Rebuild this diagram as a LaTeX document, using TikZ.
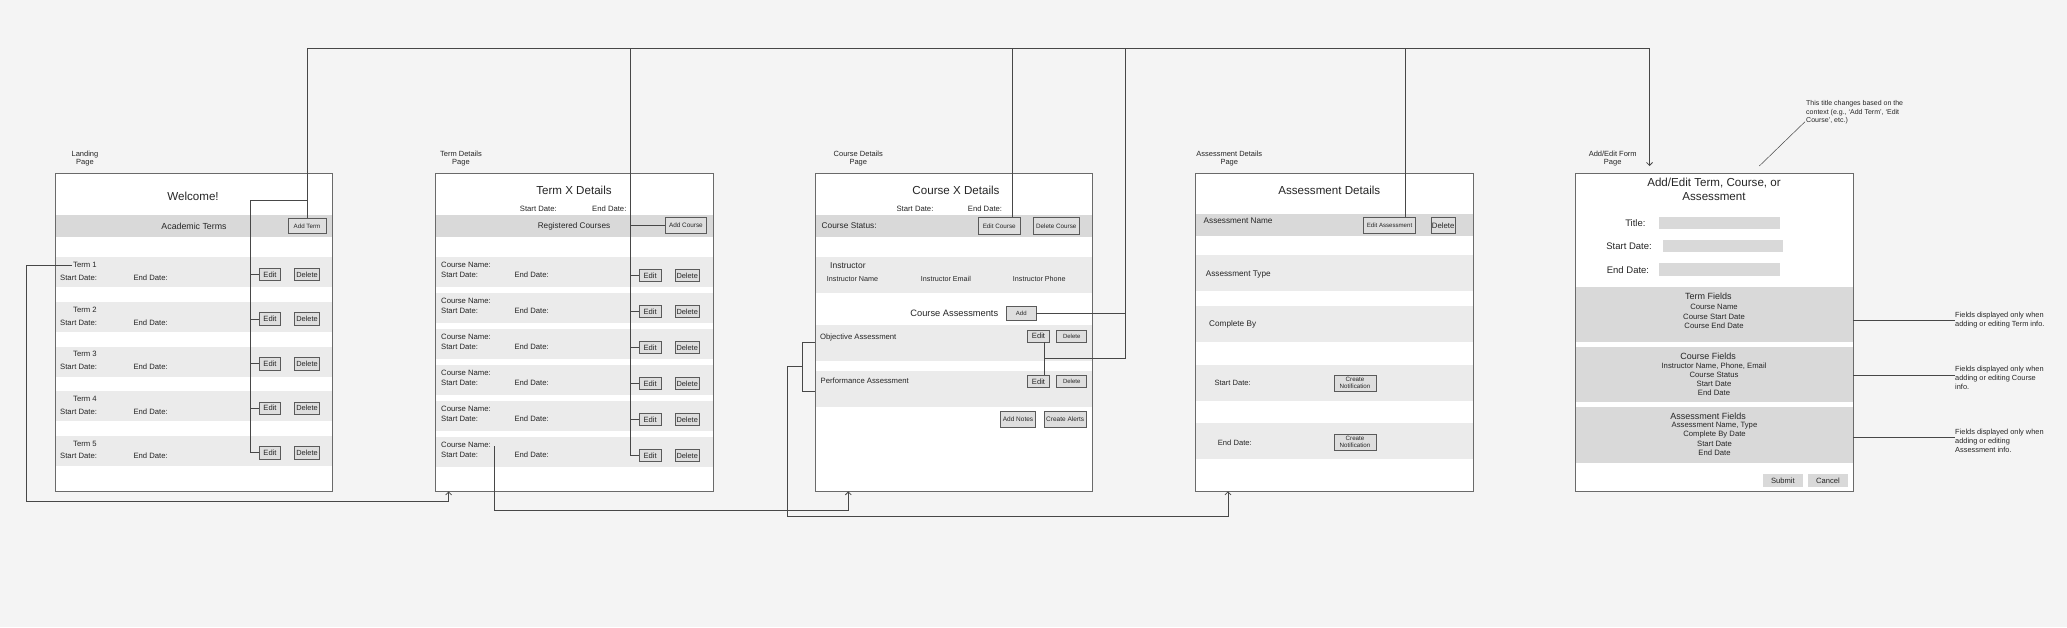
\documentclass[tikz,border=0pt]{standalone}
\usepackage{fontspec}
\setmainfont{Liberation Sans}
\usetikzlibrary{arrows.meta}
\definecolor{bgc}{HTML}{F4F4F4}
\definecolor{hdrc}{HTML}{D9D9D9}
\definecolor{rowc}{HTML}{EBEBEB}
\definecolor{pagec}{HTML}{6A6A6A}
\definecolor{btnf}{HTML}{DEDEDE}
\definecolor{btnb}{HTML}{5A5A5A}
\definecolor{txtc}{HTML}{262626}
\definecolor{linec}{HTML}{474747}
\definecolor{fieldc}{HTML}{D9D9D9}
\newcommand{\fs}[2]{\fontsize{#1}{#2}\selectfont}
\tikzset{
  every node/.append style={text=txtc, inner sep=1pt},
  pagefill/.style={fill=white, draw=none, anchor=north west, minimum width=277pt, minimum height=317.7pt, inner sep=0pt},
  pageline/.style={draw=pagec, line width=0.9pt},
  lt/.style={anchor=west},
  btn/.style={draw=btnb, fill=btnf, line width=0.7pt, inner sep=0pt, align=center},
  flatbtn/.style={fill=hdrc, draw=none, inner sep=0pt},
  conn/.style={draw=linec, line width=0.75pt},
  arr/.style={conn, -{Straight Barb[length=3pt,width=6pt]}},
  ttl/.style={font=\fs{11.6}{13.4}},
  plabel/.style={font=\fs{7.5}{8.3}, align=center},
  small/.style={font=\fs{7.7}{9}},
  note/.style={font=\fs{7.4}{9}, align=left, anchor=north west, inner sep=0pt}
}
\begin{document}
\begin{tikzpicture}[x=1pt,y=-1pt]
\useasboundingbox (0,0) rectangle (2067,627);
\fill[bgc] (0,0) rectangle (2067,627);

% ---------- page labels ----------
\node[plabel] (lbl1) at (85,158.5) {Landing\\Page};
\node[plabel] (lbl2) at (461,158.8) {Term Details\\Page};
\node[plabel] (lbl3) at (858.3,158.8) {Course Details\\Page};
\node[plabel] (lbl4) at (1229.3,158.8) {Assessment Details\\Page};
\node[plabel] (lbl5) at (1612.7,158.7) {Add/Edit Form\\Page};

% ---------- page fills ----------
\node[pagefill] (landing) at (55.3,173.3) {};
\node[pagefill] (termpage) at (435.7,173.3) {};
\node[pagefill] (coursepage) at (815,173.3) {};
\node[pagefill] (asspage) at (1195.7,173.3) {};
\node[pagefill] (formpage) at (1575.7,173.3) {};

% ---------- Landing page ----------
\node[ttl] (welcome) at (193,196) {Welcome!};
\fill[hdrc] (55.3,215) rectangle (332.3,236.7);
\node[font=\fs{8.8}{10}] (acterms) at (194,226) {Academic Terms};
\node[btn, font=\fs{6.2}{7}, minimum width=38pt, minimum height=15pt] (addterm) at (307,225.8) {Add Term};
\foreach \i in {1,...,5}{
  \pgfmathsetmacro\rt{257.3+44.6*(\i-1)}
  \fill[rowc] (55.3,\rt) rectangle (332.3,{\rt+30});
  \node[small] (term\i) at (85,{\rt+7.7}) {Term \i};
  \node[small, lt] (lsd\i) at (59,{\rt+20.5}) {Start Date:};
  \node[small, lt] (led\i) at (132.3,{\rt+20.5}) {End Date:};
  \node[btn, font=\fs{7.6}{9}, minimum width=21.4pt, minimum height=12.7pt] (ledit\i) at (270,{\rt+17.1}) {Edit};
  \node[btn, font=\fs{7.4}{9}, minimum width=24.6pt, minimum height=12.7pt] (ldel\i) at (307,{\rt+17.1}) {Delete};
}

% ---------- Term details page ----------
\node[ttl] (termttl) at (574,190) {Term X Details};
\node[small] (tsd) at (538.3,209) {Start Date:};
\node[small] (ted) at (609.3,209) {End Date:};
\fill[hdrc] (435.7,215) rectangle (712.7,236.7);
\node[font=\fs{8.2}{10}] (regc) at (574,226) {Registered Courses};
\node[btn, font=\fs{6.4}{7}, minimum width=41.7pt, minimum height=15.6pt] (addcourse) at (685.9,225.5) {Add Course};
\foreach \i in {1,...,6}{
  \pgfmathsetmacro\rt{257.3+36*(\i-1)}
  \fill[rowc] (435.7,\rt) rectangle (712.7,{\rt+30});
  \node[small, lt] (cn\i) at (440,{\rt+7.7}) {Course Name:};
  \node[small, lt] (tsd\i) at (440,{\rt+17.7}) {Start Date:};
  \node[small, lt] (ted\i) at (513.3,{\rt+17.7}) {End Date:};
  \node[btn, font=\fs{7.6}{9}, minimum width=22.3pt, minimum height=12.4pt] (tedit\i) at (650.2,{\rt+18.2}) {Edit};
  \node[btn, font=\fs{7.4}{9}, minimum width=23.7pt, minimum height=12.4pt] (tdel\i) at (687.2,{\rt+18.2}) {Delete};
}

% ---------- Course details page ----------
\node[ttl] (coursettl) at (956,190) {Course X Details};
\node[small] (csd) at (915,209) {Start Date:};
\node[small] (ced) at (985,209) {End Date:};
\fill[hdrc] (815,215) rectangle (1092,236.7);
\node[font=\fs{8.3}{10}, lt] (cstatus) at (820.5,226) {Course Status:};
\node[btn, font=\fs{6.3}{7}, minimum width=41.7pt, minimum height=16.3pt] (editcourse) at (999.2,225.8) {Edit Course};
\node[btn, font=\fs{6.3}{7}, minimum width=46pt, minimum height=16.3pt] (delcourse) at (1056.3,225.8) {Delete Course};
\fill[rowc] (815,257.3) rectangle (1092,292.7);
\node[font=\fs{8.5}{10}, lt] (instr) at (829,265.7) {Instructor};
\node[font=\fs{7.2}{9}, lt] (iname) at (825.7,279) {Instructor Name};
\node[font=\fs{7.2}{9}, lt] (iemail) at (919.7,279) {Instructor Email};
\node[font=\fs{7.2}{9}, lt] (iphone) at (1011.7,279) {Instructor Phone};
\node[font=\fs{9.3}{11}] (cass) at (954.3,313.3) {Course Assessments};
\node[btn, font=\fs{6}{7}, minimum width=29.3pt, minimum height=14.7pt] (addas) at (1021.3,313.3) {Add};
\fill[rowc] (815,325.3) rectangle (1092,360.7);
\node[font=\fs{7.7}{9}, lt] (objas) at (819,337.3) {Objective Assessment};
\node[btn, font=\fs{7.6}{9}, minimum width=21.6pt, minimum height=12pt] (oedit) at (1038.5,336) {Edit};
\node[btn, font=\fs{6}{7}, minimum width=30pt, minimum height=12pt] (odel) at (1071.7,336) {Delete};
\fill[rowc] (815,371) rectangle (1092,406.7);
\node[font=\fs{7.7}{9}, lt] (perfas) at (819.5,380.7) {Performance Assessment};
\node[btn, font=\fs{7.6}{9}, minimum width=21.6pt, minimum height=12pt] (pedit) at (1038.5,381.3) {Edit};
\node[btn, font=\fs{6}{7}, minimum width=30pt, minimum height=12pt] (pdel) at (1071.7,381.3) {Delete};
\node[btn, font=\fs{6.5}{7}, minimum width=34.6pt, minimum height=15.6pt] (addnotes) at (1018,419.5) {Add Notes};
\node[btn, font=\fs{6.5}{7}, minimum width=41.7pt, minimum height=15.6pt] (alerts) at (1065.2,419.5) {Create Alerts};

% ---------- Assessment details page ----------
\node[ttl] (assttl) at (1329.3,190) {Assessment Details};
\fill[hdrc] (1195.7,214) rectangle (1472.7,236);
\node[font=\fs{8.2}{10}, lt] (assname) at (1202.5,221) {Assessment Name};
\node[btn, font=\fs{6.1}{7}, minimum width=52.4pt, minimum height=16pt] (editass) at (1389.5,225.7) {Edit Assessment};
\node[btn, font=\fs{7.8}{9}, minimum width=24.3pt, minimum height=16pt] (delass) at (1443.2,225.7) {Delete};
\fill[rowc] (1195.7,255) rectangle (1472.7,291);
\node[font=\fs{8.2}{10}, lt] (asstype) at (1204.7,274.3) {Assessment Type};
\fill[rowc] (1195.7,306) rectangle (1472.7,341.7);
\node[font=\fs{8.2}{10}, lt] (compby) at (1208,324.3) {Complete By};
\fill[rowc] (1195.7,365) rectangle (1472.7,400.7);
\node[font=\fs{7.6}{9}, lt] (asd) at (1213.3,382.7) {Start Date:};
\node[btn, font=\fs{6.2}{7}, minimum width=42pt, minimum height=16pt] (notif1) at (1355,383) {Create\\Notification};
\fill[rowc] (1195.7,423.3) rectangle (1472.7,459.3);
\node[font=\fs{7.6}{9}, lt] (aed) at (1216.7,442.7) {End Date:};
\node[btn, font=\fs{6.2}{7}, minimum width=42pt, minimum height=16pt] (notif2) at (1355,442) {Create\\Notification};

% ---------- Add/Edit form page ----------
\node[ttl, align=center] (formttl) at (1714,189.4) {Add/Edit Term, Course, or\\Assessment};
\node[font=\fs{9.5}{11}, anchor=east] (ftitle) at (1646.7,223.3) {Title:};
\fill[fieldc] (1659,217.3) rectangle (1780,229);
\node[font=\fs{9.5}{11}, anchor=east] (fsd) at (1653,246.7) {Start Date:};
\fill[fieldc] (1662.7,240.3) rectangle (1783,252.3);
\node[font=\fs{9.5}{11}, anchor=east] (fed) at (1650.3,270) {End Date:};
\fill[fieldc] (1659,263.3) rectangle (1780,275.7);

\fill[hdrc] (1575.7,286.7) rectangle (1852.7,341.7);
\node[font=\fs{9}{10}] (tfh) at (1708.3,296) {Term Fields};
\node[small] (tf1) at (1714,307.3) {Course Name};
\node[small] (tf2) at (1714,316.5) {Course Start Date};
\node[small] (tf3) at (1714,325.7) {Course End Date};

\fill[hdrc] (1575.7,347) rectangle (1852.7,402);
\node[font=\fs{9}{10}] (cfh) at (1708,356.7) {Course Fields};
\node[small] (cf1) at (1714,365.7) {Instructor Name, Phone, Email};
\node[small] (cf2) at (1714,374.7) {Course Status};
\node[small] (cf3) at (1714,383.7) {Start Date};
\node[small] (cf4) at (1714,392.7) {End Date};

\fill[hdrc] (1575.7,407) rectangle (1852.7,462.7);
\node[font=\fs{9}{10}] (afh) at (1708,416.7) {Assessment Fields};
\node[small] (af1) at (1714.5,425.7) {Assessment Name, Type};
\node[small] (af2) at (1714.5,434.7) {Complete By Date};
\node[small] (af3) at (1714.5,443.7) {Start Date};
\node[small] (af4) at (1714.5,452.7) {End Date};

\node[flatbtn, font=\fs{7.6}{9}, minimum width=39.7pt, minimum height=12.7pt] (submit) at (1782.9,480.3) {Submit};
\node[flatbtn, font=\fs{7.6}{9}, minimum width=40pt, minimum height=12.7pt] (cancel) at (1828,480.3) {Cancel};

% ---------- page borders ----------
\foreach \p in {landing,termpage,coursepage,asspage,formpage}{
  \draw[pageline] (\p.north west) rectangle (\p.south east);
}

% ---------- annotations ----------
\node[note, font=\fs{7}{8.5}] (titlenote) at (1806,100.6) {This title changes based on the\\context (e.g., `Add Term', `Edit\\Course', etc.)};
\coordinate (tnA) at (1759.3,166);
\coordinate (tnB) at (1805,121.7);
\draw[conn, line width=0.5pt] (tnA) -- (tnB);

\node[note] (note1) at (1955,311.6) {Fields displayed only when\\adding or editing Term info.};
\node[note] (note2) at (1955,365.6) {Fields displayed only when\\adding or editing Course\\info.};
\node[note] (note3) at (1955,428.6) {Fields displayed only when\\adding or editing\\Assessment info.};
\draw[conn, line width=0.5pt] (formpage.east |- 0,320) -- (1955,320);
\draw[conn, line width=0.5pt] (formpage.east |- 0,375) -- (1955,375);
\draw[conn, line width=0.5pt] (formpage.east |- 0,437.3) -- (1955,437.3);

% ---------- connectors ----------
\coordinate (busL) at (306.7,48.3);
\coordinate (busR) at (1649.5,48.3);
\coordinate (formin) at (1649.5,166);
\draw[conn] (addterm.north) -- (307,48.3) -- (busR);
\draw[arr] (busR) -- (formin);

% landing edit bus
\coordinate (lbus) at (250,200);
\draw[conn] (307,200) -- (lbus) -- (250,0 |- ledit5.west) -- (ledit5.west);
\foreach \i in {1,...,4}{ \draw[conn] (250,0 |- ledit\i.west) -- (ledit\i.west); }

% term details bus
\draw[conn] (630.7,48.3) -- (630.7,0 |- tedit6.west) -- (tedit6.west);
\foreach \i in {1,...,5}{ \draw[conn] (630.7,0 |- tedit\i.west) -- (tedit\i.west); }
\draw[conn] (630.7,0 |- addcourse.west) -- (addcourse.west);

% course details
\draw[conn] (1012.7,48.3) -- (1012.7,0 |- editcourse.north);
\draw[conn] (1125,48.3) -- (1125,358.3) -- (1044.3,358.3);
\draw[conn] (addas.east) -- (1125,0 |- addas.east);
\draw[conn] (1044.3,0 |- oedit.south) -- (1044.3,0 |- pedit.north);

% assessment details
\draw[conn] (1405.7,48.3) -- (1405.7,0 |- editass.north);

% bottom connectors
\draw[arr] (term1.west) -- (26.7,0 |- term1.west) -- (26.7,501) -- (448.6,501) -- (448.6,0 |- termpage.south);
\coordinate (cn6s) at (494.7,446);
\draw[arr] (cn6s) -- (494.7,510) -- (848.3,510) -- (848.3,0 |- coursepage.south);
\coordinate (brT) at (815,342.3);
\coordinate (brB) at (815,391);
\draw[conn] (brT) -- (802.7,342.3) -- (802.7,391) -- (brB);
\draw[arr] (802.7,366.7) -- (787.3,366.7) -- (787.3,516.3) -- (1228,516.3) -- (1228,0 |- asspage.south);
\end{tikzpicture}
\end{document}
